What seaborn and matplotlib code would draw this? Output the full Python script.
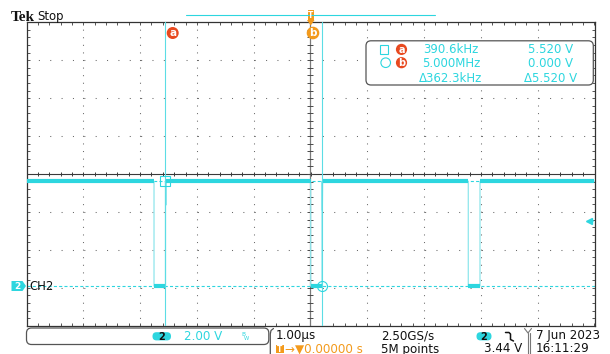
import numpy as np
import pandas as pd
import matplotlib
matplotlib.use("Agg")
import matplotlib.pyplot as plt
from matplotlib.patches import FancyBboxPatch, Circle, Rectangle, Polygon
import seaborn as sns

# ---------------- data ----------------
wave_t_us = [-5.0, -2.755, -2.755, -2.553, -2.553, -2.545, -2.540, 0.003, 0.003,
             0.202, 0.202, 0.208, 0.213, 2.778, 2.778, 2.984, 2.984, 5.0]
wave_v = [5.52, 5.52, 0.0, 0.0, 5.52, 4.27, 5.52, 5.52, 0.0,
          0.0, 5.52, 4.00, 5.52, 5.52, 0.0, 0.0, 5.52, 5.52]
cursor_labels = ["a", "b"]
cursor_t_us = [-2.56, 0.20]
cursor_v = [5.52, 0.0]
readout_freq = ["390.6kHz", "5.000MHz", "\u0394362.3kHz"]
readout_volt = ["5.520 V", "0.000 V", "\u03945.520 V"]
trigger_level_v = 3.44
volts_per_div = 2.0
time_per_div_us = 1.0
ground_pos_div = -2.953
n_div_x, n_div_y = 10, 8
ch_scale = "2.00 V"
time_scale = "1.00\u00b5s"
sample_rate = "2.50GS/s"
record_len = "5M points"
trig_pos = "\u2192\u25bc0.00000 s"
trig_level_txt = "3.44 V"
date_txt = "7 Jun 2023"
time_txt = "16:11:29"

# ---------------- style ----------------
W, H = 610, 354
sns.set_style("white")
plt.rcParams['font.family'] = ['DejaVu Sans']
plt.rcParams['lines.scale_dashes'] = False

cyan = '#2dd6df'
cyan_edge = '#8fe6ec'
cyan_cur = '#5cdde5'
red = '#e8491f'
orange = '#f39a1c'
fs_read = 8.5
fs_bot = 8.6

fig = plt.figure(figsize=(W / 100, H / 100), dpi=100)
L, R, T, B = 26.5, 594.5, 22.3, 325.7
ax = fig.add_axes([L / W, 1 - B / H, (R - L) / W, (B - T) / H])
x_half = n_div_x / 2 * time_per_div_us
y_center = -ground_pos_div * volts_per_div
y0 = y_center - n_div_y / 2 * volts_per_div
y1 = y_center + n_div_y / 2 * volts_per_div
ax.set_xlim(-x_half, x_half)
ax.set_ylim(y0, y1)

# graticule
pxdx = (R - L) / n_div_x
pxdy = (B - T) / n_div_y
dot_x = pxdx / 5 * 0.72
dot_y = pxdy / 5 * 0.72
grid_c = '#6a6a6a'
for k in range(1, n_div_x):
    if k == n_div_x // 2:
        continue
    ax.axvline(-x_half + k * time_per_div_us, color=grid_c, lw=0.75,
               ls=(0, (0.75, dot_y - 0.75)), zorder=1)
for k in range(1, n_div_y):
    if k == n_div_y // 2:
        continue
    ax.axhline(y0 + k * volts_per_div, color=grid_c, lw=0.75,
               ls=(0, (0.75, dot_x - 0.75)), zorder=1)
ax.axhline(y_center, color='#3a3a3a', lw=0.8, zorder=1.5)
ax.axvline(0, color='#7a7a7a', lw=0.9, zorder=1.5)
mx = np.arange(-x_half, x_half + 1e-9, time_per_div_us / 5)
my = np.arange(y0, y1 + 1e-9, volts_per_div / 5)
ax.plot(mx, np.full_like(mx, y_center), ls='none', marker='|', ms=3.4, mew=0.7,
        color='#3a3a3a', zorder=1.5)
ax.plot(np.zeros_like(my), my, ls='none', marker='_', ms=3.8, mew=0.7,
        color='#4a4a4a', zorder=1.5)

ax.set_xticks(np.arange(-x_half, x_half + 1e-9, time_per_div_us))
ax.set_xticks(mx, minor=True)
ax.set_yticks(np.arange(y0, y1 + 1e-9, volts_per_div))
ax.set_yticks(my, minor=True)
ax.tick_params(which='both', direction='in', length=2.2, width=0.7, color='#555555',
               top=True, right=True, bottom=True, left=True,
               labelbottom=False, labelleft=False)
for s in ax.spines.values():
    s.set_color('#333333')
    s.set_linewidth(0.9)

# cursor horizontal (dashed) lines
for v in cursor_v:
    ax.axhline(v, color=cyan, lw=0.8, ls=(0, (2.2, 1.6)), zorder=2)

# waveform
df = pd.DataFrame({"t": wave_t_us, "v": wave_v})
sns.lineplot(data=df, x="t", y="v", estimator=None, sort=False, color=cyan_edge,
             lw=0.9, ax=ax, zorder=3)
rows = []
seg = 0
for i in range(len(wave_t_us) - 1):
    if wave_v[i] == wave_v[i + 1] and wave_t_us[i] != wave_t_us[i + 1]:
        rows.append((seg, wave_t_us[i], wave_v[i]))
        rows.append((seg, wave_t_us[i + 1], wave_v[i + 1]))
        seg += 1
flat = pd.DataFrame(rows, columns=["seg", "t", "v"])
sns.lineplot(data=flat, x="t", y="v", units="seg", estimator=None, sort=False,
             color=cyan, lw=3.0, ax=ax, zorder=3.5, solid_capstyle='butt')
ax.set_xlabel('')
ax.set_ylabel('')

for t in cursor_t_us:
    ax.axvline(t, color=cyan_cur, lw=0.8, zorder=5)
ax.plot(cursor_t_us[0], cursor_v[0], marker='s', ms=7.5, mfc='none', mec=cyan,
        mew=0.8, zorder=6)
ax.plot(cursor_t_us[1], cursor_v[1], marker='o', ms=7.2, mfc='none', mec=cyan,
        mew=0.8, zorder=6)

# trigger level marker on right edge
ax.plot([x_half - 0.1], [trigger_level_v], marker='<', ms=4.5, color=cyan,
        clip_on=False, zorder=6)
ax.plot([x_half - 0.1, x_half - 0.03], [trigger_level_v, trigger_level_v],
        color=cyan, lw=1.2, clip_on=False, zorder=6)

# ---------------- overlay (pixel coords) ----------------
ov = fig.add_axes([0, 0, 1, 1], zorder=10)
ov.set_xlim(0, W)
ov.set_ylim(H, 0)
ov.axis('off')
ov.patch.set_alpha(0)

ov.text(10.5, 21, "Tek", family='Liberation Serif', weight='bold', fontsize=11,
        va='baseline', ha='left', color='#111111')
ov.text(37, 20.3, "Stop", fontsize=8.4, va='baseline', ha='left', color='#111111')
ov.plot([186, 435], [15.3, 15.3], color=cyan, lw=0.8)

# trigger position marker (top)
ov.add_patch(Rectangle((307.5, 10), 6.5, 10, fc=orange, ec='none'))
ov.text(310.7, 15, "T", color='white', fontsize=5.5, weight='bold', ha='center', va='center')
ov.add_patch(Polygon([[307, 20], [314.5, 20], [310.7, 25.5]], closed=True, fc=orange, ec='none'))

# cursor labels at top
ov.add_patch(Circle((172.7, 33), 6, fc=red, ec='none'))
ov.text(172.7, 33.3, cursor_labels[0], color='white', fontsize=7.5, weight='bold',
        ha='center', va='center')
ov.add_patch(Circle((313, 33), 6.3, fc=orange, ec='none'))
ov.text(313, 33.3, cursor_labels[1], color='white', fontsize=7.5, weight='bold',
        ha='center', va='center')

# readout box
ov.add_patch(FancyBboxPatch((366, 40.8), 227.3, 44.2,
                            boxstyle="round,pad=0,rounding_size=5",
                            fc='white', ec='#555555', lw=0.9))
ov.add_patch(Rectangle((380.2, 45.2), 7.4, 8.4, fc='none', ec=cyan, lw=0.8))
ov.add_patch(Circle((385.7, 62.7), 4.8, fc='none', ec=cyan, lw=0.8))
for yy, lab in zip([49.4, 62.7], cursor_labels):
    ov.add_patch(Circle((401.5, yy), 5.6, fc=red, ec='none'))
    ov.text(401.5, yy + 0.3, lab, color='white', fontsize=7, weight='bold',
            ha='center', va='center')
for yb, f, v in zip([53.3, 66.7, 81.7], readout_freq, readout_volt):
    ov.text(451, yb, f, color=cyan, fontsize=fs_read, ha='center', va='baseline')
    ov.text(550.5, yb, v, color=cyan, fontsize=fs_read, ha='center', va='baseline')

# CH2 marker
ov.add_patch(Polygon([[11.5, 281], [22.5, 281], [26, 286], [22.5, 291], [11.5, 291]],
                     closed=True, fc=cyan, ec='none'))
ov.text(17.5, 286.3, "2", color='white', fontsize=6.5, weight='bold', ha='center', va='center')
ov.text(29, 290, "CH2", color='#111111', fontsize=8.4, ha='left', va='baseline')

# bottom bar
ov.add_patch(FancyBboxPatch((26.5, 328), 242.3, 16.5,
                            boxstyle="round,pad=0,rounding_size=5",
                            fc='white', ec='#555555', lw=0.9))
ov.add_patch(FancyBboxPatch((152.5, 332.2), 18.5, 8.2,
                            boxstyle="round,pad=0,rounding_size=4", fc=cyan, ec='none'))
ov.text(161.8, 336.6, "2", color='#111111', fontsize=7, weight='bold', ha='center', va='center')
ov.text(184, 339.5, ch_scale, color=cyan, fontsize=fs_bot, ha='left', va='baseline')
ov.text(241, 336, "B", color=cyan, fontsize=4.2, ha='left', va='baseline')
ov.text(244, 339.5, "W", color=cyan, fontsize=3.8, ha='left', va='baseline')

ov.plot([273.5, 271, 270.3, 270.3], [328.5, 330.5, 334, 354], color='#555555', lw=0.9)
ov.text(276, 339.3, time_scale, color='#111111', fontsize=fs_bot, ha='left', va='baseline')
ov.add_patch(Rectangle((275.8, 345), 8, 8, fc=orange, ec='none'))
ov.text(279.8, 349.2, "T", color='white', fontsize=5.5, weight='bold', ha='center', va='center')
ov.text(285, 352.5, trig_pos, color=orange, fontsize=fs_bot, ha='left', va='baseline')

ov.text(381, 339.3, sample_rate, color='#111111', fontsize=fs_bot, ha='left', va='baseline')
ov.text(381, 352.5, record_len, color='#111111', fontsize=fs_bot, ha='left', va='baseline')

ov.add_patch(FancyBboxPatch((476.5, 332.2), 15, 8.2,
                            boxstyle="round,pad=0,rounding_size=4", fc=cyan, ec='none'))
ov.text(484, 336.6, "2", color='#111111', fontsize=7, weight='bold', ha='center', va='center')
ov.plot([505.5, 509, 510.5, 510.5, 513.5], [332.5, 332.5, 334, 339.5, 341], color='#111111', lw=1.1)
ov.text(484, 352.5, trig_level_txt, color='#111111', fontsize=fs_bot, ha='left', va='baseline')

ov.plot([524.5, 528, 531.5], [328.5, 333, 328.5], color='#777777', lw=0.8)
ov.plot([527.5, 527.5], [333, 354], color='#777777', lw=0.8)
ov.plot([530, 530], [333, 354], color='#777777', lw=0.8)
ov.text(536, 339.3, date_txt, color='#111111', fontsize=fs_bot, ha='left', va='baseline')
ov.text(536, 352.5, time_txt, color='#111111', fontsize=fs_bot, ha='left', va='baseline')

fig.savefig("out.png", dpi=100, facecolor='white')
